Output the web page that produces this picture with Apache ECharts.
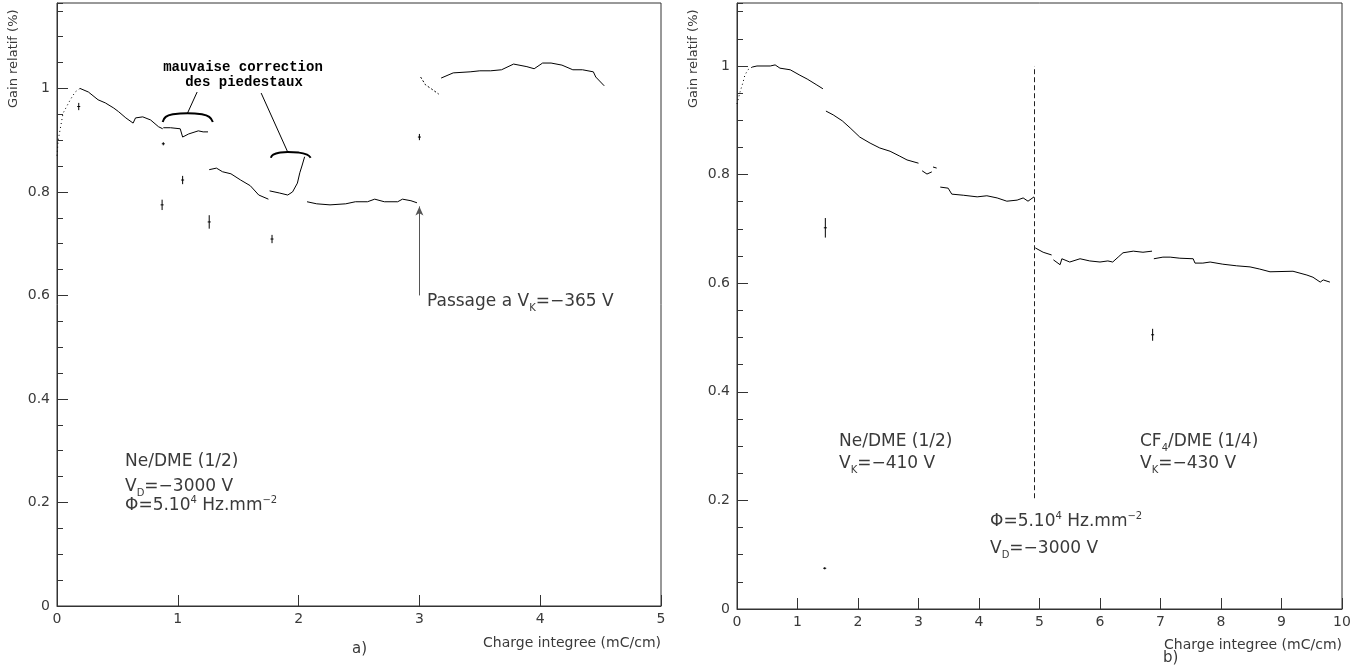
<!DOCTYPE html>
<html>
<head>
<meta charset="utf-8">
<script src="https://cdn.jsdelivr.net/npm/echarts@6/dist/echarts.min.js"></script>
<style>html,body{margin:0;padding:0;background:#fff}#c{width:1362px;height:670px}</style>
</head>
<body>
<div id="c"></div>
<script>
// ---------- DATA ----------
// Left panel a)
const leftRiseX = [0.0, 0.01, 0.05, 0.11, 0.15, 0.19];
const leftRiseY = [0.87, 0.90, 0.952, 0.978, 0.993, 1.0];
const leftX = [0.19,0.26,0.34,0.40,0.47,0.51,0.57,0.63,0.65,0.71,0.775,0.84,0.875, null,
  0.88,0.94,1.02,1.04,1.09,1.17,1.21,1.25, null,
  1.26,1.32,1.37,1.44,1.52,1.60,1.67,1.75, null,
  1.76,1.84,1.91,1.95,1.99,2.01,2.03,2.05, null,
  2.07,2.15,2.26,2.39,2.47,2.57,2.63,2.71,2.82,2.86,2.93,2.98, null,
  3.18,3.28,3.42,3.50,3.59,3.68,3.78,3.89,3.95,4.02,4.09,4.18,4.27,4.35,4.44,4.46,4.53];
const leftY = [1.0,0.993,0.978,0.972,0.962,0.955,0.943,0.933,0.943,0.945,0.939,0.926,0.922, null,
  0.924,0.924,0.922,0.906,0.912,0.918,0.916,0.916, null,
  0.843,0.846,0.839,0.835,0.823,0.812,0.794,0.786, null,
  0.802,0.798,0.794,0.800,0.817,0.837,0.852,0.868, null,
  0.781,0.777,0.775,0.777,0.781,0.781,0.786,0.781,0.781,0.786,0.783,0.779, null,
  1.020,1.030,1.032,1.034,1.034,1.036,1.047,1.042,1.038,1.049,1.049,1.045,1.036,1.036,1.032,1.022,1.005];
const leftJumpX = [3.01, 3.05, 3.10, 3.16];
const leftJumpY = [1.022, 1.007, 0.999, 0.989];
const leftErrX = [0.18, 0.87, 1.04, 1.26, 1.78, 3.0, 0.88];
const leftErrY = [0.965, 0.775, 0.823, 0.742, 0.709, 0.906, 0.893];
const leftErrE = [0.007, 0.010, 0.008, 0.013, 0.008, 0.006, 0.003];
// annotation brackets ("mauvaise correction des piedestaux")
const arc1X = [0.875, 0.90, 0.96, 1.08, 1.20, 1.26, 1.29];
const arc1Y = [0.935, 0.945, 0.950, 0.952, 0.950, 0.945, 0.935];
const ptr1X = [1.16, 1.08];
const ptr1Y = [0.993, 0.952];
const arc2X = [1.77, 1.79, 1.85, 1.91, 2.00, 2.07, 2.10];
const arc2Y = [0.866, 0.872, 0.876, 0.877, 0.876, 0.872, 0.866];
const ptr2X = [1.69, 1.91];
const ptr2Y = [0.991, 0.877];
const arrowX = [3.0, 3.0];
const arrowY = [0.60, 0.772];

// Right panel b)
const rightRiseX = [0.0, 0.05, 0.10, 0.13, 0.18, 0.25];
const rightRiseY = [0.93, 0.952, 0.970, 0.983, 0.993, 0.998];
const rightX = [0.25,0.33,0.55,0.63,0.71,0.88,1.04,1.16,1.32,1.42, null,
  1.47,1.59,1.74,1.87,2.03,2.20,2.36,2.53,2.69,2.81,3.00, null,
  3.06,3.14,3.22, null, 3.24,3.30, null,
  3.36,3.49,3.55,3.74,3.97,4.13,4.30,4.46,4.63,4.73,4.81,4.91, null,
  4.93,5.06,5.20, null, 5.23,5.34,5.37,5.50,5.67,5.83,6.00,6.13,6.21,6.30,6.38,6.55,6.71,6.86, null,
  6.89,7.04,7.16,7.32,7.54,7.57,7.70,7.82,8.03,8.26,8.48,8.64,8.81,9.19,9.42,9.52,9.64,9.69,9.80];
const rightY = [0.998,1.0,1.0,1.002,0.996,0.993,0.983,0.976,0.965,0.958, null,
  0.917,0.910,0.899,0.886,0.869,0.858,0.849,0.843,0.834,0.827,0.821, null,
  0.807,0.801,0.805, null, 0.814,0.812, null,
  0.777,0.775,0.764,0.762,0.759,0.761,0.757,0.751,0.753,0.757,0.751,0.759, null,
  0.665,0.657,0.652, null, 0.643,0.634,0.645,0.639,0.645,0.641,0.639,0.641,0.639,0.648,0.656,0.659,0.657,0.659, null,
  0.645,0.648,0.648,0.646,0.645,0.637,0.637,0.639,0.635,0.632,0.630,0.626,0.621,0.622,0.615,0.611,0.602,0.606,0.602];
const rightErrX = [1.46, 1.45, 6.87];
const rightErrY = [0.702, 0.075, 0.505];
const rightErrE = [0.018, 0.002, 0.011];
const dashX = [4.91, 4.91];
const dashY = [0.204, 1.0];

const leftXTicks = {min: 0, max: 5, interval: 1};
const rightXTicks = {min: 0, max: 10, interval: 1};
const leftYMax = 1.165, rightYMax = 1.116;

// ---------- STYLE ----------
const FONT = 'DejaVu Sans';
const TXT = '#3a3a3a';
const AX = '#333';

function zip(xs, ys) { return xs.map((x, i) => [x, ys[i]]); }
function segments(xs, ys) {
  const out = []; let cur = [];
  xs.forEach((x, i) => {
    if (x === null || ys[i] === null) { if (cur.length) out.push(cur); cur = []; }
    else cur.push([x, ys[i]]);
  });
  if (cur.length) out.push(cur);
  return out;
}
function lineSeries(data, gi, extra) {
  return Object.assign({
    type: 'line', xAxisIndex: gi, yAxisIndex: gi * 2, data: data,
    showSymbol: false, symbol: 'none', silent: true, animation: false,
    lineStyle: {color: '#000', width: 1}
  }, extra || {});
}
function errSeries(xs, ys, es, gi) {
  return {
    type: 'custom', xAxisIndex: gi, yAxisIndex: gi * 2, silent: true, animation: false,
    data: xs.map((x, i) => [x, ys[i], es[i]]),
    renderItem: function (params, api) {
      const x = api.value(0), y = api.value(1), e = api.value(2);
      const t = api.coord([x, y + e]), b = api.coord([x, y - e]), m = api.coord([x, y]);
      return {type: 'group', children: [
        {type: 'line', shape: {x1: t[0], y1: t[1], x2: b[0], y2: b[1]}, style: {stroke: '#000', lineWidth: 1}},
        {type: 'line', shape: {x1: m[0] - 1.5, y1: m[1], x2: m[0] + 1.5, y2: m[1]}, style: {stroke: '#000', lineWidth: 1}}
      ]};
    }
  };
}
function xAxisCfg(gi, t) {
  return {gridIndex: gi, type: 'value', min: t.min, max: t.max, interval: t.interval,
    axisLine: {onZero: false, lineStyle: {color: AX, width: 1}},
    axisTick: {inside: true, length: 11, lineStyle: {color: AX}},
    axisLabel: {color: TXT, fontSize: 14, fontFamily: FONT, margin: 6},
    splitLine: {show: false}};
}
function yAxisCfg(gi, max, major) {
  return {gridIndex: gi, type: 'value', position: 'left', min: 0, max: max,
    interval: major ? 0.2 : 0.05,
    axisLine: {show: major, onZero: false, lineStyle: {color: AX, width: 1}},
    axisTick: {inside: true, length: major ? 11 : 6, lineStyle: {color: AX}},
    axisLabel: {show: major, showMaxLabel: false, color: TXT, fontSize: 14, fontFamily: FONT, margin: 7},
    splitLine: {show: false}};
}

const R = {
  n: {fontSize: 17, fontFamily: FONT, fill: TXT, lineHeight: 22, verticalAlign: 'middle'},
  s: {fontSize: 10, fontFamily: FONT, fill: TXT, lineHeight: 10, verticalAlign: 'bottom'},
  p: {fontSize: 10, fontFamily: FONT, fill: TXT, lineHeight: 11, verticalAlign: 'top'}
};
function rt(x, y, txt) {
  return {type: 'text', x: x, y: y, silent: true,
    style: {text: txt, rich: R, fill: TXT, font: '17px ' + FONT, textAlign: 'left', textVerticalAlign: 'middle'}};
}
function plain(x, y, txt, size, align, rot, extra) {
  return {type: 'text', x: x, y: y, rotation: rot || 0, silent: true,
    style: Object.assign({text: txt, fill: TXT, font: size + 'px ' + FONT, textAlign: align, textVerticalAlign: 'middle'}, extra || {})};
}

const series = [];
segments(leftX, leftY).forEach(s => series.push(lineSeries(s, 0)));
series.push(lineSeries(zip(leftRiseX, leftRiseY), 0, {lineStyle: {color: '#000', width: 1, type: [1, 3]}}));
series.push(lineSeries(zip(leftJumpX, leftJumpY), 0, {lineStyle: {color: '#000', width: 1, type: [2, 2]}}));
series.push(lineSeries(zip(arc1X, arc1Y), 0, {smooth: true, lineStyle: {color: '#000', width: 2}}));
series.push(lineSeries(zip(arc2X, arc2Y), 0, {smooth: true, lineStyle: {color: '#000', width: 2}}));
series.push(lineSeries(zip(ptr1X, ptr1Y), 0));
series.push(lineSeries(zip(ptr2X, ptr2Y), 0));
series.push(errSeries(leftErrX, leftErrY, leftErrE, 0));
series.push(lineSeries([], 0, {markLine: {silent: true, animation: false, symbol: ['none', 'arrow'], symbolSize: [6, 9],
  label: {show: false}, lineStyle: {color: '#555', type: 'solid', width: 1},
  data: [[{coord: [arrowX[0], arrowY[0]]}, {coord: [arrowX[1], arrowY[1]]}]]}}));

segments(rightX, rightY).forEach(s => series.push(lineSeries(s, 1)));
series.push(lineSeries(zip(rightRiseX, rightRiseY), 1, {lineStyle: {color: '#000', width: 1, type: [1, 3]}}));
series.push(errSeries(rightErrX, rightErrY, rightErrE, 1));
series.push(lineSeries([], 1, {markLine: {silent: true, animation: false, symbol: ['none', 'none'],
  label: {show: false}, lineStyle: {color: '#222', type: [5, 3], width: 1},
  data: [[{coord: [dashX[0], dashY[0]]}, {coord: [dashX[1], dashY[1]]}]]}}));

const chart = echarts.init(document.getElementById('c'), null, {renderer: 'canvas'});
chart.setOption({
  backgroundColor: '#fff',
  animation: false,
  grid: [
    {left: 57, top: 3, width: 604, height: 603, show: true, borderColor: AX, borderWidth: 1, backgroundColor: 'transparent'},
    {left: 737, top: 3, width: 605, height: 606, show: true, borderColor: AX, borderWidth: 1, backgroundColor: 'transparent'}
  ],
  xAxis: [xAxisCfg(0, leftXTicks), xAxisCfg(1, rightXTicks)],
  yAxis: [yAxisCfg(0, leftYMax, true), yAxisCfg(0, leftYMax, false), yAxisCfg(1, rightYMax, true), yAxisCfg(1, rightYMax, false)],
  series: series,
  graphic: [
    plain(14, 108, 'Gain relatif (%)', 13, 'left', Math.PI / 2),
    plain(694, 108, 'Gain relatif (%)', 13, 'left', Math.PI / 2),
    plain(661, 643, 'Charge integree (mC/cm)', 14, 'right'),
    plain(1342, 645, 'Charge integree (mC/cm)', 14, 'right'),
    plain(352, 649, 'a)', 15, 'left'),
    plain(1163, 658, 'b)', 15, 'left'),
    plain(243, 67, 'mauvaise correction', 14, 'center', 0, {fill: '#000', font: 'bold 14px "Liberation Mono"'}),
    plain(244, 82, 'des piedestaux', 14, 'center', 0, {fill: '#000', font: 'bold 14px "Liberation Mono"'}),
    rt(125, 462, '{n|Ne/DME (1/2)}'),
    rt(125, 487, '{n|V}{s|D}{n|=−3000 V}'),
    rt(125, 506, '{n|Φ=5.10}{p|4}{n| Hz.mm}{p|−2}'),
    rt(427, 302, '{n|Passage a V}{s|K}{n|=−365 V}'),
    rt(839, 442, '{n|Ne/DME (1/2)}'),
    rt(839, 464, '{n|V}{s|K}{n|=−410 V}'),
    rt(1140, 442, '{n|CF}{s|4}{n|/DME (1/4)}'),
    rt(1140, 464, '{n|V}{s|K}{n|=−430 V}'),
    rt(990, 522, '{n|Φ=5.10}{p|4}{n| Hz.mm}{p|−2}'),
    rt(990, 549, '{n|V}{s|D}{n|=−3000 V}')
  ]
});
</script>
</body>
</html>
